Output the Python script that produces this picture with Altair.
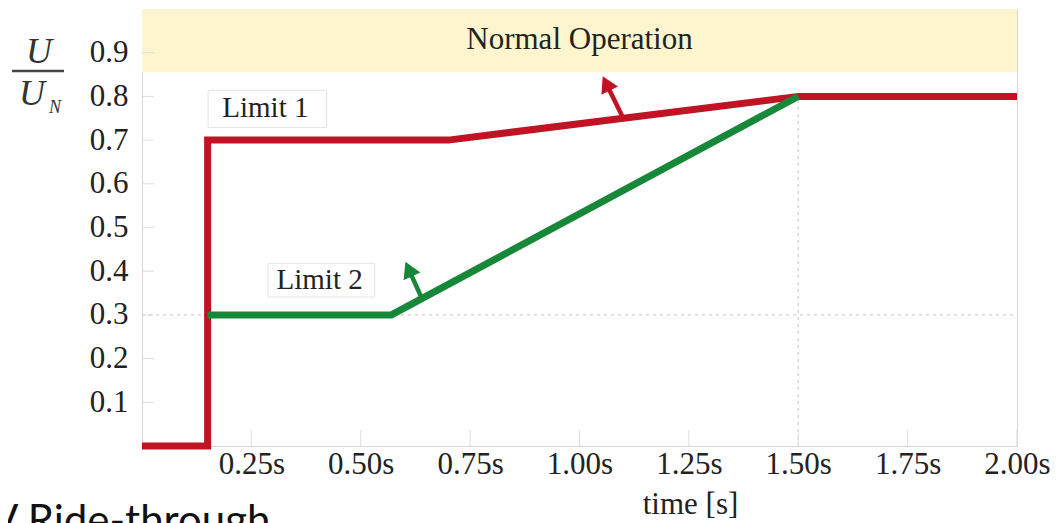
import math
import json
import altair as alt
import pandas as pd

# ---- data ----
red_t = [0.0, 0.15, 0.15, 0.70, 1.50, 2.00]
red_u = [0.0, 0.0, 0.70, 0.70, 0.80, 0.80]
green_t = [0.15, 0.57, 1.50]
green_u = [0.30, 0.30, 0.80]

x_ticks = [0.25, 0.50, 0.75, 1.00, 1.25, 1.50, 1.75, 2.00]
x_tick_labels = ["0.25s", "0.50s", "0.75s", "1.00s", "1.25s", "1.50s", "1.75s", "2.00s"]
y_ticks = [0.1, 0.2, 0.3, 0.4, 0.5, 0.6, 0.7, 0.8, 0.9]
y_tick_labels = ["0.1", "0.2", "0.3", "0.4", "0.5", "0.6", "0.7", "0.8", "0.9"]

band_t = [0.0, 2.0]
band_u = [0.855, 1.0]
band_label = ["Normal Operation"]
band_label_t = [1.0]
band_label_u = [0.93]

limit_labels = ["Limit 1", "Limit 2"]
limit_label_t = [0.282, 0.406]
limit_label_u = [0.773, 0.379]
limit_box_t0 = [0.151, 0.288]
limit_box_t1 = [0.422, 0.532]
limit_box_u0 = [0.729, 0.341]
limit_box_u1 = [0.814, 0.418]

arrow_base_t = [1.10, 0.64]
arrow_base_u = [0.75, 0.337]
arrow_tip_t = [1.050, 0.601]
arrow_tip_u = [0.852, 0.424]
arrow_series = ["Limit 1", "Limit 2"]

ref_h_u = [0.3]
ref_v_t = [1.5]
ref_v_top = [0.8]

RED = "#BF1424"
GREEN = "#17883A"
SERIF = "Liberation Serif"

W, H = 875, 437

xs = alt.Scale(domain=[0, 2], nice=False, zero=False)
ys = alt.Scale(domain=[0, 1], nice=False, zero=False)

# ---- tables ----
lines = pd.DataFrame(
    [{"t": t, "u": u, "series": "Limit 1", "i": i} for i, (t, u) in enumerate(zip(red_t, red_u))]
    + [{"t": t, "u": u, "series": "Limit 2", "i": i} for i, (t, u) in enumerate(zip(green_t, green_u))]
)
band = pd.DataFrame({"t0": [band_t[0]], "t1": [band_t[1]], "u0": [band_u[0]], "u1": [band_u[1]]})
band_txt = pd.DataFrame({"t": band_label_t, "u": band_label_u, "s": band_label})
boxes = pd.DataFrame({"t0": limit_box_t0, "t1": limit_box_t1, "u0": limit_box_u0, "u1": limit_box_u1})
ltxt = pd.DataFrame({"t": limit_label_t, "u": limit_label_u, "s": limit_labels})

arr_rows = []
for bt, bu, tt, tu, s in zip(arrow_base_t, arrow_base_u, arrow_tip_t, arrow_tip_u, arrow_series):
    dx = (tt - bt) * W / 2.0
    dy = (tu - bu) * H
    ang = math.degrees(math.atan2(dx, dy)) % 360
    ht = tt + (bt - tt) * 0.22
    hu = tu + (bu - tu) * 0.22
    arr_rows.append({"bt": bt, "bu": bu, "ht": ht, "hu": hu, "ang": ang, "series": s})
arrows = pd.DataFrame(arr_rows)

refh = pd.DataFrame({"u": ref_h_u, "t0": [0.0], "t1": [2.0]})
refv = pd.DataFrame({"t": ref_v_t, "u0": [0.0], "u1": ref_v_top})
xt = pd.DataFrame({"t": x_ticks})
yt = pd.DataFrame({"u": y_ticks})

color = alt.Color("series:N", scale=alt.Scale(domain=["Limit 1", "Limit 2"], range=[RED, GREEN]), legend=None)

x_label_expr = json.dumps(x_tick_labels) + "[round(datum.value / 0.25) - 1]"
y_label_expr = json.dumps(y_tick_labels) + "[round(datum.value * 10) - 1]"

base_x = alt.X("t0:Q", scale=xs,
               axis=alt.Axis(values=x_ticks, labelExpr=x_label_expr, title="time [s]",
                             grid=False, ticks=False, domain=False, labelFontSize=31,
                             labelFont=SERIF, labelColor="#222", labelPadding=3,
                             titleFont=SERIF, titleFontSize=31, titleFontWeight="normal",
                             titleColor="#222", titleX=548, titleY=67, titleAlign="center",
                             titleBaseline="alphabetic", labelFlush=False))
base_y = alt.Y("u0:Q", scale=ys,
               axis=alt.Axis(values=y_ticks, labelExpr=y_label_expr, title=None, grid=False,
                             ticks=False, domain=False, labelFontSize=31, labelFont=SERIF,
                             labelColor="#222", labelPadding=14))

band_layer = alt.Chart(band).mark_rect(color="#FCF5CE").encode(
    x=base_x, x2="t1:Q", y=base_y, y2="u1:Q")

refh_layer = alt.Chart(refh).mark_rule(color="#cfcfcf", strokeDash=[3, 4], strokeWidth=1.2).encode(
    x=alt.X("t0:Q", scale=xs), x2="t1:Q", y=alt.Y("u:Q", scale=ys))
refv_layer = alt.Chart(refv).mark_rule(color="#cfcfcf", strokeDash=[3, 4], strokeWidth=1.2).encode(
    x=alt.X("t:Q", scale=xs), y=alt.Y("u0:Q", scale=ys), y2="u1:Q")

xtick_layer = alt.Chart(xt).mark_rule(color="#dddddd", strokeWidth=1).encode(
    x=alt.X("t:Q", scale=xs), y=alt.value(H), y2=alt.value(H - 16))
ytick_layer = alt.Chart(yt).mark_rule(color="#dddddd", strokeWidth=1).encode(
    y=alt.Y("u:Q", scale=ys), x=alt.value(0), x2=alt.value(12))

box_layer = alt.Chart(boxes).mark_rect(fill="white", stroke="#e4e4e4", strokeWidth=1).encode(
    x=alt.X("t0:Q", scale=xs), x2="t1:Q", y=alt.Y("u0:Q", scale=ys), y2="u1:Q")

line_layer = alt.Chart(lines).mark_line(strokeWidth=7, strokeJoin="miter", strokeCap="butt").encode(
    x=alt.X("t:Q", scale=xs), y=alt.Y("u:Q", scale=ys), color=color, detail="series:N",
    order="i:Q")

shaft_layer = alt.Chart(arrows).mark_rule(strokeWidth=4.5).encode(
    x=alt.X("bt:Q", scale=xs), x2="ht:Q", y=alt.Y("bu:Q", scale=ys), y2="hu:Q", color=color)
head_layer = alt.Chart(arrows).mark_point(shape="triangle-up", filled=True, size=340, opacity=1).encode(
    x=alt.X("ht:Q", scale=xs), y=alt.Y("hu:Q", scale=ys), angle=alt.Angle("ang:Q", scale=None),
    color=color)

band_text = alt.Chart(band_txt).mark_text(font=SERIF, fontSize=31, color="#222").encode(
    x=alt.X("t:Q", scale=xs), y=alt.Y("u:Q", scale=ys), text="s:N")
limit_text = alt.Chart(ltxt).mark_text(font=SERIF, fontSize=29, color="#222").encode(
    x=alt.X("t:Q", scale=xs), y=alt.Y("u:Q", scale=ys), text="s:N")

one = pd.DataFrame({"a": ["U"], "n": ["N"], "b": ["V Ride-through"]})
frac_top = alt.Chart(one).mark_text(font=SERIF, fontSize=36, fontStyle="italic", color="#333").encode(
    text="a:N", x=alt.value(-103), y=alt.value(43))
frac_bar = alt.Chart(one).mark_rule(color="#444", strokeWidth=2.5).encode(
    x=alt.value(-130), x2=alt.value(-78), y=alt.value(62))
frac_bot = alt.Chart(one).mark_text(font=SERIF, fontSize=36, fontStyle="italic", color="#333").encode(
    text="a:N", x=alt.value(-110), y=alt.value(85))
frac_sub = alt.Chart(one).mark_text(font=SERIF, fontSize=18, fontStyle="italic", color="#333").encode(
    text="n:N", x=alt.value(-87), y=alt.value(99))
bottom_text = alt.Chart(one).mark_text(font="Lato", fontSize=42, color="#111", align="left",
                                       baseline="alphabetic").encode(
    text="b:N", x=alt.value(-152), y=alt.value(526))

chart = alt.layer(
    band_layer, refh_layer, refv_layer, xtick_layer, ytick_layer, box_layer,
    line_layer, shaft_layer, head_layer, band_text, limit_text,
    frac_top, frac_bar, frac_bot, frac_sub, bottom_text,
).properties(
    width=W, height=H,
    autosize=alt.AutoSizeParams(type="none"),
    padding={"left": 134, "top": 1, "right": 36, "bottom": 77},
    background="white",
).configure_view(stroke="#d5d5d5", strokeWidth=1)

chart.save("out.html", embed_options={"renderer": "svg", "actions": False})
